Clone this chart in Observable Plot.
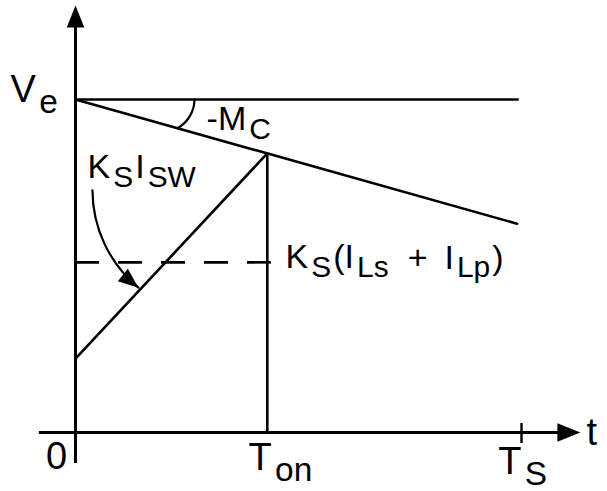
<!DOCTYPE html>
<html>
<head>
<meta charset="utf-8">
<script src="https://cdn.jsdelivr.net/npm/d3@7"></script>
<script src="https://cdn.jsdelivr.net/npm/@observablehq/plot@0.6"></script>
<style>
  body { margin: 0; background: #fff; }
  svg text { white-space: pre; }
</style>
</head>
<body>
<script>
// Peak current-mode control over one switching period, normalised so that Ts = 1 and Ve = 1.
const Ve = 1;
const Ton = 0.43;
const Ts = 1;
const threshold = 0.511;                                   // Ks(ILs + ILp)
const compensation = [{t: 0, v: 1}, {t: 0.99, v: 0.627}];  // Ve - Mc·t
const senseRamp = [{t: 0, v: 0.222}, {t: Ton, v: 0.838}];  // Ks·Isw

// Axis extents (time and voltage units)
const tAxis = [-0.081, 1.12];
const vAxis = [-0.093, 1.25];
const arrowTips = [{t: 0, v: 1.282}, {t: 1.132, v: 0}];

// Angle marker for -Mc and the pointer from the Ks·Isw label
const angleArc = [{t1: 0.2668, v1: 1, t2: 0.2287, v2: 0.9138}];
const pointer = [{t1: 0.038, v1: 0.727, t2: 0.141, v2: 0.435}];

// Labels ("_{…}" marks a subscript)
const noteText = ["-M_{C}", "K_{S}I_{SW}", "K_{S}(I_{Ls}\u2002+\u2002I_{Lp})"];
const noteT = [0.294, 0.027, 0.471];
const noteV = [0.907, 0.763, 0.4925];
const axisText = ["V_{e}", "0", "T_{on}", "T_{S}", "t"];
const axisT = [-0.1457, -0.066, 0.388, 0.948, 1.146];
const axisV = [0.991, -0.111, -0.114, -0.126, -0.039];

const notes = noteText.map((text, i) => ({text, t: noteT[i], v: noteV[i]}));
const axisLabels = axisText.map((text, i) => ({text, t: axisT[i], v: axisV[i]}));

// Filled arrowhead: tip at the origin, pointing up, length r
const arrowhead = {
  draw(context, size) {
    const r = Math.sqrt(size / Math.PI);
    context.moveTo(0, 0);
    context.lineTo(0.4 * r, r);
    context.lineTo(-0.4 * r, r);
    context.closePath();
  }
};

const font = "Liberation Sans, Arial, Helvetica, sans-serif";
const sw = 2.6;

const svg = Plot.plot({
  width: 607,
  height: 491,
  x: {domain: [0, 1], range: [75, 521], axis: null},
  y: {domain: [0, 1], range: [432, 99], axis: null},
  marks: [
    // axes
    Plot.ruleX([0], {y1: vAxis[0], y2: vAxis[1], strokeWidth: 3}),
    Plot.ruleY([0], {x1: tAxis[0], x2: tAxis[1], strokeWidth: 3}),
    Plot.dot(arrowTips.slice(0, 1), {x: "t", y: "v", symbol: arrowhead, r: 22, fill: "black", stroke: "none"}),
    Plot.dot(arrowTips.slice(1), {x: "t", y: "v", symbol: arrowhead, r: 23, rotate: 90, fill: "black", stroke: "none"}),
    Plot.ruleX([Ts], {y1: -0.033, y2: 0.027, strokeWidth: 2.4}),
    // error-amplifier level and compensation slope
    Plot.ruleY([Ve], {x1: 0, x2: 0.995, strokeWidth: sw}),
    Plot.line(compensation, {x: "t", y: "v", strokeWidth: sw}),
    // sensed switch current ramp and turn-off instant
    Plot.line(senseRamp, {x: "t", y: "v", strokeWidth: sw}),
    Plot.ruleX([Ton], {y1: 0, y2: senseRamp[1].v, strokeWidth: sw}),
    Plot.ruleY([threshold], {x1: 0, x2: Ton + 0.012, strokeWidth: sw, strokeDasharray: "24,19"}),
    // -Mc angle and label pointer
    Plot.arrow(angleArc, {x1: "t1", y1: "v1", x2: "t2", y2: "v2", bend: 30, headLength: 0, strokeWidth: 2.2}),
    Plot.arrow(pointer, {x1: "t1", y1: "v1", x2: "t2", y2: "v2", bend: -25, headLength: 0, strokeWidth: 2.2}),
    Plot.dot(pointer, {x: "t2", y: "v2", symbol: arrowhead, r: 20, rotate: 129, fill: "black", stroke: "none"}),
    // labels
    Plot.text(notes, {x: "t", y: "v", text: "text", textAnchor: "start", lineAnchor: "bottom", fontSize: 34, fontFamily: font, fill: "black"}),
    Plot.text(axisLabels, {x: "t", y: "v", text: "text", textAnchor: "start", lineAnchor: "bottom", fontSize: 38, fontFamily: font, fill: "black"})
  ]
});
svg.style.overflow = "visible";
document.body.append(svg);

// Turn "_{…}" runs into lowered, smaller tspans
const SVGNS = "http://www.w3.org/2000/svg";
const subScale = 0.88, subDrop = 0.3;
svg.querySelectorAll("text").forEach(node => {
  const s = node.textContent;
  if (!s.includes("_{")) return;
  node.textContent = "";
  let lowered = false;
  for (const part of s.split(/(_\{[^}]*\})/).filter(p => p)) {
    const sub = part.startsWith("_{");
    const ts = document.createElementNS(SVGNS, "tspan");
    ts.textContent = sub ? part.slice(2, -1) : part;
    if (sub) {
      ts.setAttribute("font-size", `${subScale * 100}%`);
      ts.setAttribute("dy", `${subDrop}em`);
      ts.setAttribute("dx", "0.1em");
      lowered = true;
    } else if (lowered) {
      ts.setAttribute("dy", `${-subDrop * subScale}em`);
      ts.setAttribute("dx", "0.06em");
      lowered = false;
    }
    node.appendChild(ts);
  }
});
</script>
</body>
</html>
